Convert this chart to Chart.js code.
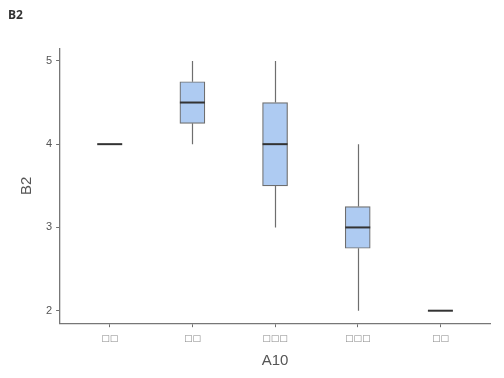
<!DOCTYPE html>
<html>
<head>
<meta charset="utf-8">
<script src="https://cdn.jsdelivr.net/npm/chart.js@4.4.1/dist/chart.umd.min.js"></script>
<style>
html,body{margin:0;padding:0;background:#fff;}
#wrap{width:504px;height:378px;position:relative;}
</style>
</head>
<body>
<div id="wrap"><canvas id="c" width="504" height="378"></canvas></div>
<script>
const categories = ["□□", "□□", "□□□", "□□□", "□□"];
const mins    = [4, 4,    3,   2,    2];
const q1s     = [4, 4.25, 3.5, 2.75, 2];
const medians = [4, 4.5,  4,   3,    2];
const q3s     = [4, 4.75, 4.5, 3.25, 2];
const maxs    = [4, 5,    5,   4,    2];
const yTicks  = [2, 3, 4, 5];

const BOX_W = 25;

const boxData = categories.map((c, i) => ({x: i + 1, y: [q1s[i], q3s[i]]}));

const boxPlugin = {
  id: 'boxparts',
  beforeDatasetsDraw(chart) {
    const {ctx, scales: {x, y}} = chart;
    ctx.save();
    ctx.strokeStyle = '#6e6e6e';
    ctx.lineWidth = 1.2;
    categories.forEach((c, i) => {
      const px = Math.round(x.getPixelForValue(i + 1)) + 0.5;
      ctx.beginPath();
      ctx.moveTo(px, y.getPixelForValue(mins[i]));
      ctx.lineTo(px, y.getPixelForValue(q1s[i]));
      ctx.moveTo(px, y.getPixelForValue(q3s[i]));
      ctx.lineTo(px, y.getPixelForValue(maxs[i]));
      ctx.stroke();
    });
    ctx.restore();
  },
  afterDatasetsDraw(chart) {
    const {ctx, scales: {x, y}} = chart;
    ctx.save();
    ctx.strokeStyle = '#333333';
    ctx.lineWidth = 2;
    categories.forEach((c, i) => {
      const px = x.getPixelForValue(i + 1);
      const py = y.getPixelForValue(medians[i]);
      ctx.beginPath();
      ctx.moveTo(px - BOX_W / 2, py);
      ctx.lineTo(px + BOX_W / 2, py);
      ctx.stroke();
    });
    ctx.restore();
  }
};

new Chart(document.getElementById('c'), {
  type: 'bar',
  data: {
    datasets: [{
      data: boxData,
      backgroundColor: '#aecbf2',
      borderColor: '#6e6e6e',
      borderWidth: 1.2,
      borderSkipped: false,
      barThickness: BOX_W
    }]
  },
  options: {
    responsive: false,
    animation: false,
    layout: {padding: {left: 8, right: 14, top: 0, bottom: 4}},
    plugins: {
      legend: {display: false},
      tooltip: {enabled: false},
      title: {
        display: true,
        text: 'B2',
        align: 'start',
        color: '#333',
        font: {family: 'Open Sans', size: 12, weight: 'bold'},
        padding: {top: 8, bottom: 26}
      }
    },
    scales: {
      x: {
        type: 'linear',
        offset: false,
        min: 0.4,
        max: 5.6,
        afterBuildTicks(scale) {
          scale.ticks = categories.map((c, i) => ({value: i + 1}));
        },
        ticks: {
          callback: (v) => categories[v - 1] || '',
          color: '#8a8a8a',
          font: {family: 'DejaVu Sans', size: 9},
          padding: 6,
          maxRotation: 0,
          autoSkip: false
        },
        grid: {display: true, offset: false, drawOnChartArea: false, drawTicks: true, tickLength: 4, color: '#6e6e6e'},
        border: {display: true, color: '#777', width: 1.3},
        title: {display: true, text: 'A10', color: '#555', font: {family: 'Liberation Sans', size: 15}, padding: {top: 2}}
      },
      y: {
        type: 'linear',
        min: 1.85,
        max: 5.15,
        afterBuildTicks(scale) {
          scale.ticks = yTicks.map(v => ({value: v}));
        },
        ticks: {
          color: '#555',
          font: {family: 'Liberation Sans', size: 11},
          padding: 4
        },
        grid: {display: true, drawOnChartArea: false, drawTicks: true, tickLength: 4, color: '#6e6e6e'},
        border: {display: true, color: '#777', width: 1.3},
        title: {display: true, text: 'B2', color: '#555', font: {family: 'Liberation Sans', size: 15}, padding: {top: 10, bottom: 6}}
      }
    }
  },
  plugins: [boxPlugin]
});
</script>
</body>
</html>
